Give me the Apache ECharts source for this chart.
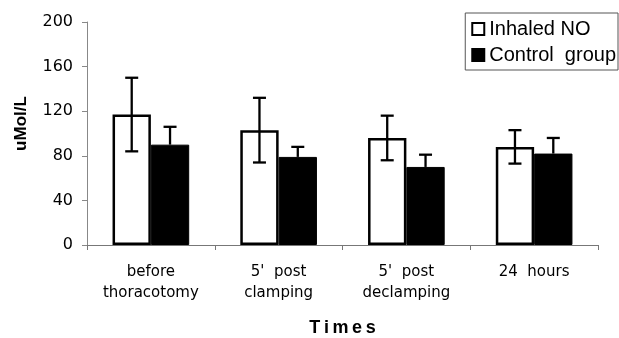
<!DOCTYPE html>
<html><head><meta charset="utf-8">
<script src="https://cdn.jsdelivr.net/npm/echarts@6/dist/echarts.min.js"></script>
<style>html,body{margin:0;padding:0;background:#fff}#c{width:619px;height:338px}</style>
</head><body><div id="c"></div>
<script>
var categories = ['before\nthoracotomy', "5'  post\nclamping", "5'  post\ndeclamping", '24  hours'];
var inhaledNO = [117, 103, 96, 88];
var inhaledErr = [33, 29, 20, 15];
var controlGroup = [90, 79, 70, 82];
var controlErr = [16, 9, 11, 14];
var yTicks = [0, 40, 80, 120, 160, 200];

var chart = echarts.init(document.getElementById('c'));
var BARPCT = 0.30;
var SANS = 'Liberation Sans, Arial, sans-serif';
var DJ = 'DejaVu Sans, sans-serif';
function errSeries(name, vals, errs, side, both) {
  return {
    type: 'custom', name: name + ' err', silent: true, z: 10,
    data: vals.map(function (v, i) { return [i, v, errs[i]]; }),
    renderItem: function (params, api) {
      var i = api.value(0), v = api.value(1), e = api.value(2);
      var band = api.size([1, 0])[0];
      var bw = band * BARPCT;
      var c = api.coord([i, v]);
      var x = c[0] + side * bw / 2;
      var top = api.coord([i, v + e])[1];
      var bot = both ? api.coord([i, v - e])[1] : c[1];
      var cap = 6.5;
      var st = { stroke: '#000', lineWidth: 2.3 };
      var ch = [
        { type: 'line', shape: { x1: x, y1: top, x2: x, y2: bot }, style: st },
        { type: 'line', shape: { x1: x - cap, y1: top, x2: x + cap, y2: top }, style: st }
      ];
      if (both) ch.push({ type: 'line', shape: { x1: x - cap, y1: bot, x2: x + cap, y2: bot }, style: st });
      return { type: 'group', children: ch };
    }
  };
}
chart.setOption({
  animation: false,
  textStyle: { fontFamily: SANS },
  grid: { left: 87, right: 21, top: 22, bottom: 93, containLabel: false, outerBoundsMode: 'none' },
  legend: {
    orient: 'vertical', right: 1, top: 13,
    data: ['Inhaled NO', 'Control  group'],
    itemWidth: 12, itemHeight: 12, itemGap: 6,
    padding: [6, 2, 5, 6],
    borderColor: '#555', borderWidth: 1,
    icon: 'rect',
    textStyle: { fontSize: 20, color: '#000', fontFamily: SANS, lineHeight: 20 }
  },
  xAxis: {
    type: 'category', data: categories,
    name: 'T\u2009i\u2009m\u2009e\u2009s', nameLocation: 'middle', nameGap: 74,
    nameTextStyle: { fontSize: 18, fontWeight: 'bold', color: '#000', fontFamily: SANS },
    axisLine: { lineStyle: { color: '#777', width: 1 } },
    axisTick: { show: true, alignWithLabel: false, length: 5, lineStyle: { color: '#777' } },
    axisLabel: { fontSize: 15, color: '#000', margin: 17, lineHeight: 21, interval: 0, fontFamily: DJ }
  },
  yAxis: {
    type: 'value', min: yTicks[0], max: yTicks[yTicks.length - 1], interval: 40,
    name: 'uMol/L', nameLocation: 'middle', nameGap: 57, nameRotate: 90,
    nameTextStyle: { fontSize: 17, fontWeight: 'bold', color: '#000', fontFamily: SANS, padding: [0, 0, 0, 20] },
    axisLine: { show: true, lineStyle: { color: '#888', width: 1 } },
    axisTick: { show: true, length: 5, lineStyle: { color: '#888' } },
    splitLine: { show: false },
    axisLabel: { fontSize: 16, color: '#000', margin: 14, fontFamily: DJ }
  },
  series: [
    { type: 'bar', name: 'Inhaled NO', data: inhaledNO, barWidth: '30%', barGap: '0%',
      itemStyle: { color: '#fff', borderColor: '#000', borderWidth: 2.5 } },
    { type: 'bar', name: 'Control  group', data: controlGroup, barWidth: '30%', barGap: '0%',
      itemStyle: { color: '#000', borderColor: '#000', borderWidth: 1 } },
    errSeries('Inhaled NO', inhaledNO, inhaledErr, -1, true),
    errSeries('Control  group', controlGroup, controlErr, 1, false)
  ]
});
</script></body></html>
